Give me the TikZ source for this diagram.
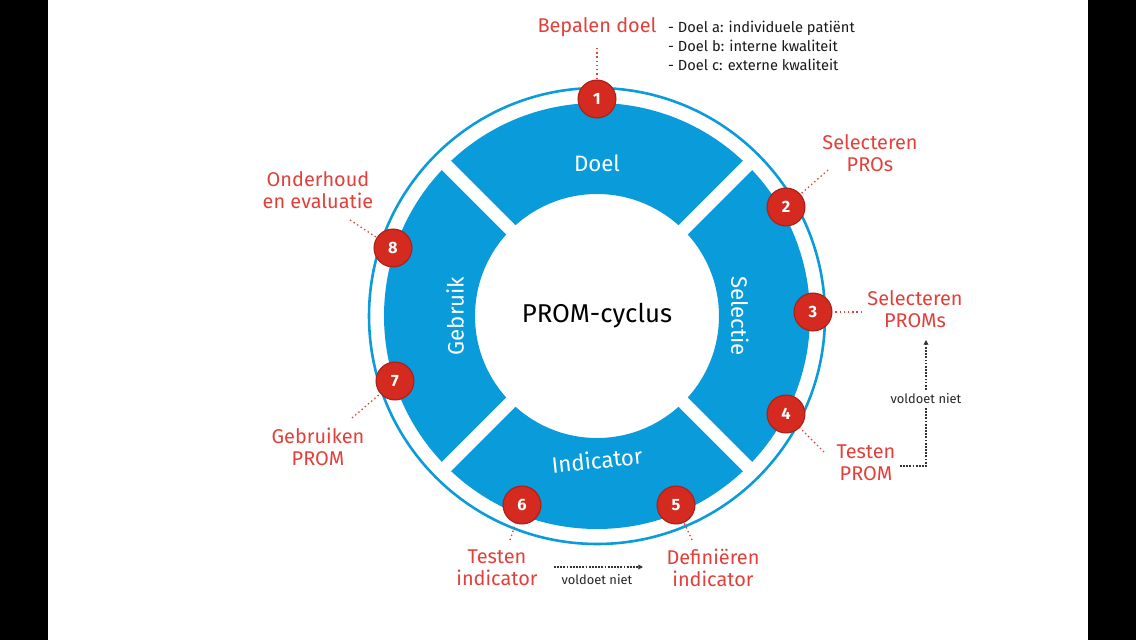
\documentclass[tikz,border=0pt]{standalone}
\usepackage{fontspec}
\setmainfont{Fira Sans}
\usetikzlibrary{arrows.meta,calc}
\definecolor{cblue}{HTML}{0A9BDB}
\definecolor{cred}{HTML}{D42A1F}
\definecolor{lred}{HTML}{E2403A}
\tikzset{
 num/.style={circle,fill=cred,draw=cred!80!black,line width=1pt,minimum size=38*0.85pt,inner sep=0pt,text=white,font=\fontsize{14}{14}\selectfont\bfseries},
 lab/.style={text=lred,align=center,font=\fontsize{17}{19}\selectfont},
 seg/.style={text=white,font=\fontsize{19}{19}\selectfont},
 dot/.style={lred,dash pattern=on 1.2pt off 2.4pt,line width=1.1pt},
 gdash/.style={black!80,dash pattern=on 1.5pt off 1.2pt,line width=1.1pt},
 small/.style={font=\fontsize{11}{11}\selectfont,text=black!85},
 list/.style={font=\fontsize{12.5}{16}\selectfont,text=black!90},
}
\begin{document}
\begin{tikzpicture}[x=0.03cm,y=-0.03cm]
\useasboundingbox (0,0) rectangle (1136,640);
\fill[white] (0,0) rectangle (1136,640);
\fill[black] (0,0) rectangle (48,640);
\fill[black] (1088,0) rectangle (1136,640);
\coordinate (c) at (597,316);
% outer ring
\draw[cblue,line width=2.2pt] (c) circle[radius=228];
% blue donut
\fill[cblue,even odd rule] (c) circle[radius=213] (c) circle[radius=122];
\foreach \a in {45,135,225,315}
  \draw[white,line width=11pt] ($(c)+(\a:120)$) -- ($(c)+(\a:216)$);
\node[seg] (doel) at (597,163) {Doel};
\node[seg,rotate=-90] (sel) at (740,316) {Selectie};
\node[seg,rotate=6] (ind) at (597,460) {Indicator};
\node[seg,rotate=90] (geb) at (455,316) {Gebruik};
\node[font=\fontsize{22}{22}\selectfont] (pc) at (597,316) {PROM-cyclus};
% numbered circles
\node[num] (n1) at (597,99) {1};
\node[num] (n2) at (786,207) {2};
\node[num] (n3) at (813,312) {3};
\node[num] (n4) at (786,414) {4};
\node[num] (n5) at (676,505) {5};
\node[num] (n6) at (522,505) {6};
\node[num] (n7) at (395,381) {7};
\node[num] (n8) at (393,248) {8};
% labels
\node[lab] (l1) at (597,27) {Bepalen doel};
\node[list,anchor=west,align=left] (list) at (664,46) {- Doel a: individuele patiënt\\- Doel b: interne kwaliteit\\- Doel c: externe kwaliteit};
\node[lab] (l2) at (870,153) {Selecteren\\PROs};
\node[lab] (l3) at (915,309) {Selecteren\\PROMs};
\node[lab] (l4) at (866,463) {Testen\\PROM};
\node[lab] (l5) at (713,568) {Definiëren\\indicator};
\node[lab] (l6) at (497,568) {Testen\\indicator};
\node[lab] (l7) at (318,447) {Gebruiken\\PROM};
\node[lab] (l8) at (318,190) {Onderhoud\\en evaluatie};
% dotted leaders
\coordinate (e1) at (597,48);
\coordinate (e2) at (828,170);
\coordinate (e3) at (862,312);
\coordinate (e4) at (824,452);
\coordinate (e5) at (692,540);
\coordinate (e6) at (510,540);
\coordinate (e7) at (352,418);
\coordinate (e8) at (350,220);
\draw[dot] (e1) -- (n1);
\draw[dot] (e2) -- (n2);
\draw[dot] (e3) -- (n3);
\draw[dot] (e4) -- (n4);
\draw[dot] (e5) -- (n5);
\draw[dot] (e6) -- (n6);
\draw[dot] (e7) -- (n7);
\draw[dot] (e8) -- (n8);
% voldoet niet right
\node[small] (v1) at (926,399) {voldoet niet};
\coordinate (a1) at (900,466);
\coordinate (a2) at (926,466);
\coordinate (a3) at (926,340);
\draw[gdash] (a1) -- (a2) -- (v1.south);
\draw[gdash,-{Triangle[length=4pt,width=4pt]}] (v1.north) -- (a3);
% voldoet niet bottom
\node[small] (v2) at (597,580) {voldoet niet};
\coordinate (b1) at (554,567);
\coordinate (b2) at (643,567);
\draw[gdash,-{Triangle[length=4pt,width=4pt]}] (b1) -- (b2);
\end{tikzpicture}
\end{document}
